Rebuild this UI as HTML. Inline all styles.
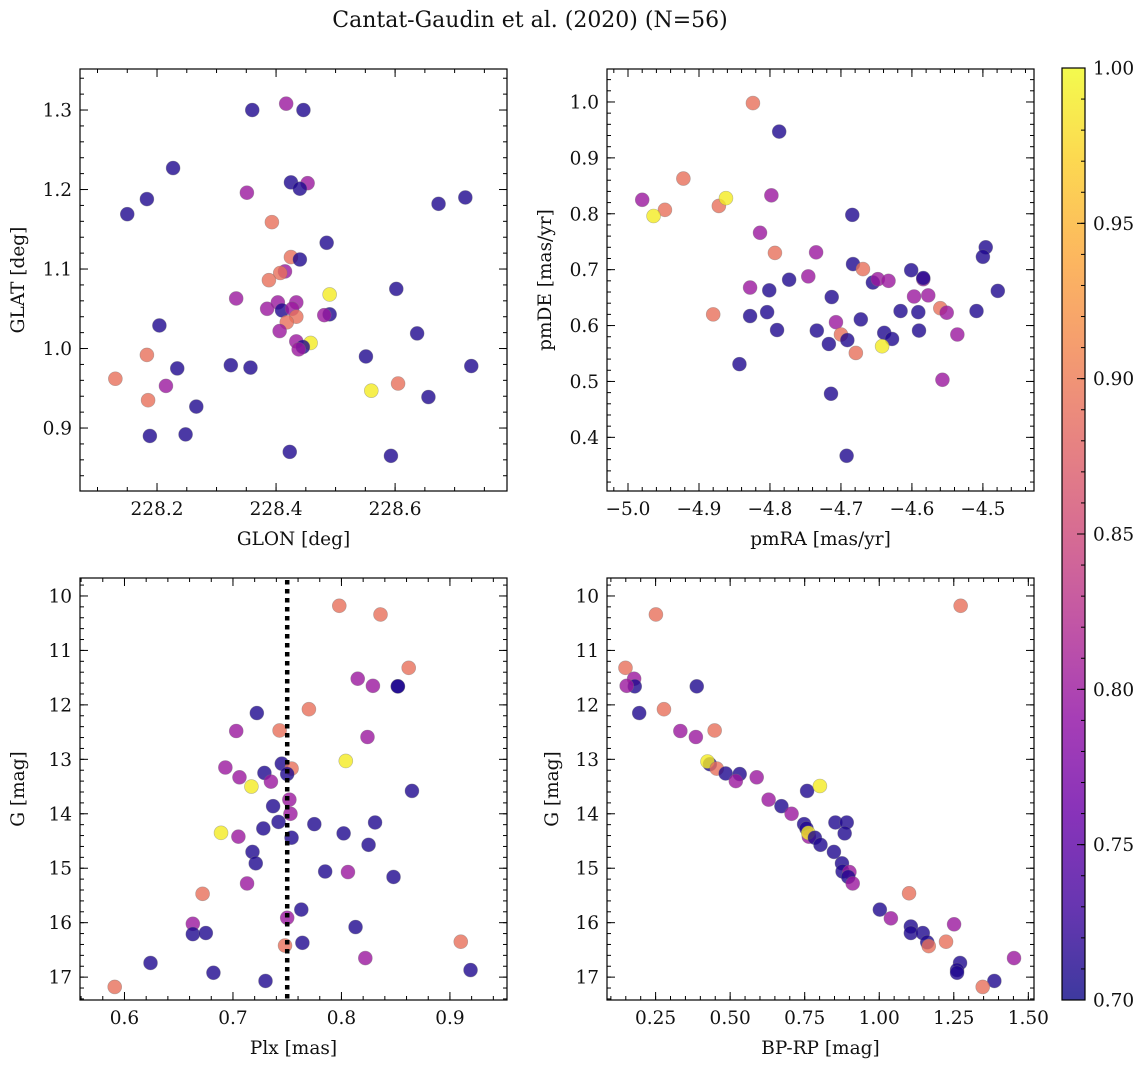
<!DOCTYPE html>
<html><head><meta charset="utf-8"><style>
html,body{margin:0;padding:0;background:#fff}
svg{display:block;font-family:"DejaVu Serif","Liberation Serif",serif}
</style></head><body>
<svg id="fig" width="1148" height="1068" viewBox="0 0 1148 1068" xmlns="http://www.w3.org/2000/svg">
<text x="530" y="27" font-size="22" text-anchor="middle" fill="#111">Cantat-Gaudin et al. (2020) (N=56)</text>
</svg>
<script>
const N=0.71,M=0.80,S=0.89,Y=0.99;
const p1x=[228.36,228.417,228.446,228.227,228.425,228.453,228.44,228.351,228.183,228.15,228.673,228.718,228.393,228.485,228.425,228.44,228.415,228.407,228.388,228.49,228.602,228.333,228.403,228.434,228.385,228.41,228.427,228.434,228.418,228.49,228.481,228.204,228.637,228.406,228.434,228.458,228.445,228.438,228.551,228.324,228.357,228.234,228.183,228.728,228.13,228.215,228.605,228.56,228.185,228.656,228.266,228.188,228.248,228.423,228.593];
const p1y=[1.30,1.308,1.30,1.227,1.209,1.208,1.201,1.196,1.188,1.169,1.182,1.19,1.159,1.133,1.115,1.112,1.097,1.095,1.086,1.068,1.075,1.063,1.058,1.058,1.050,1.048,1.050,1.040,1.033,1.043,1.042,1.029,1.019,1.022,1.009,1.007,1.002,0.999,0.990,0.979,0.976,0.975,0.992,0.978,0.962,0.953,0.956,0.947,0.935,0.939,0.927,0.890,0.892,0.870,0.865];
const p1c=[N,M,N,N,N,M,N,M,N,N,N,N,S,N,S,N,M,S,S,Y,N,M,M,M,M,N,M,S,S,N,M,N,N,M,M,Y,N,M,N,N,N,N,S,N,S,M,S,Y,S,N,N,N,N,N,N];
const p2x=[-4.824,-4.787,-4.922,-4.980,-4.948,-4.964,-4.872,-4.862,-4.798,-4.684,-4.814,-4.793,-4.735,-4.496,-4.500,-4.683,-4.669,-4.601,-4.584,-4.584,-4.773,-4.746,-4.655,-4.648,-4.633,-4.479,-4.828,-4.801,-4.597,-4.577,-4.713,-4.880,-4.828,-4.804,-4.616,-4.591,-4.560,-4.551,-4.509,-4.707,-4.672,-4.790,-4.734,-4.590,-4.536,-4.700,-4.639,-4.628,-4.717,-4.691,-4.642,-4.679,-4.843,-4.557,-4.714,-4.692];
const p2y=[0.998,0.947,0.863,0.825,0.807,0.796,0.814,0.828,0.833,0.798,0.766,0.730,0.731,0.740,0.723,0.710,0.701,0.699,0.683,0.685,0.682,0.688,0.677,0.683,0.680,0.662,0.668,0.663,0.652,0.654,0.651,0.620,0.617,0.624,0.626,0.624,0.631,0.623,0.626,0.606,0.611,0.592,0.591,0.591,0.584,0.584,0.587,0.576,0.567,0.574,0.563,0.551,0.531,0.503,0.478,0.367];
const p2c=[S,N,S,M,S,Y,S,Y,M,N,M,S,M,N,N,N,S,N,M,N,N,M,N,M,M,N,M,N,M,M,N,S,N,N,N,N,S,M,N,M,N,N,N,N,M,S,N,N,N,N,Y,S,N,M,N,N];
const p3x=[0.798,0.836,0.862,0.815,0.829,0.852,0.852,0.770,0.722,0.703,0.743,0.824,0.804,0.745,0.754,0.693,0.729,0.750,0.706,0.735,0.717,0.865,0.752,0.737,0.753,0.742,0.775,0.831,0.728,0.689,0.705,0.754,0.802,0.825,0.718,0.721,0.785,0.806,0.848,0.713,0.672,0.763,0.750,0.663,0.663,0.675,0.813,0.910,0.764,0.748,0.822,0.624,0.919,0.682,0.730,0.591];
const p3y=[10.18,10.34,11.32,11.52,11.65,11.66,11.66,12.08,12.15,12.48,12.47,12.59,13.03,13.08,13.17,13.15,13.25,13.27,13.33,13.41,13.50,13.58,13.74,13.86,14.00,14.15,14.19,14.16,14.27,14.35,14.42,14.44,14.36,14.57,14.70,14.91,15.06,15.07,15.16,15.28,15.47,15.76,15.91,16.02,16.21,16.19,16.08,16.35,16.37,16.42,16.65,16.74,16.87,16.92,17.07,17.18];
const p3c=[S,S,S,M,M,N,N,S,N,M,S,M,Y,N,S,M,N,N,M,M,Y,N,M,N,M,N,N,N,N,Y,M,N,N,N,N,N,N,M,N,M,S,N,M,M,N,N,N,S,N,S,M,N,N,N,N,S];
const p4x=[1.273,0.251,0.149,0.178,0.180,0.153,0.388,0.278,0.195,0.333,0.448,0.385,0.432,0.424,0.455,0.485,0.532,0.519,0.589,0.758,0.801,0.629,0.672,0.706,0.748,0.853,0.891,0.884,0.756,0.764,0.762,0.784,0.803,0.848,0.875,0.877,0.900,0.896,0.911,1.100,1.002,1.039,1.106,1.106,1.251,1.146,1.161,1.166,1.224,1.452,1.271,1.261,1.261,1.386,1.347];
const p4y=[10.18,10.34,11.32,11.52,11.66,11.65,11.66,12.08,12.15,12.48,12.47,12.59,13.09,13.04,13.17,13.26,13.27,13.40,13.33,13.58,13.49,13.74,13.86,14.00,14.19,14.16,14.16,14.36,14.27,14.42,14.35,14.44,14.57,14.70,14.91,15.06,15.07,15.16,15.28,15.46,15.76,15.92,16.07,16.19,16.03,16.19,16.36,16.43,16.35,16.65,16.74,16.87,16.92,17.07,17.18];
const p4c=[S,S,S,M,N,M,N,S,N,M,S,M,N,Y,S,N,N,M,M,N,Y,M,N,M,N,N,N,N,N,M,Y,N,N,N,N,N,M,N,M,S,N,M,N,N,M,N,N,S,S,M,N,N,N,N,S];
const t1x=[228.2,228.4,228.6], t1y=[0.9,1.0,1.1,1.2,1.3];
const t2x=[-5.0,-4.9,-4.8,-4.7,-4.6,-4.5], t2y=[0.4,0.5,0.6,0.7,0.8,0.9,1.0];
const t3x=[0.6,0.7,0.8,0.9], tGy=[10,11,12,13,14,15,16,17];
const t4x=[0.25,0.50,0.75,1.00,1.25,1.50];
const tcb=[0.70,0.75,0.80,0.85,0.90,0.95,1.00];
const plxCut=[0.75];

const FS=18.5;
const NS='http://www.w3.org/2000/svg';
const svg=document.getElementById('fig');
function el(tag,attrs,parent){const e=document.createElementNS(NS,tag);for(const k in attrs)e.setAttribute(k,attrs[k]);(parent||svg).appendChild(e);return e;}
const stops=['#0d0887','#41049d','#6a00a8','#8f0da4','#b12a90','#cc4778','#e16462','#f2844b','#fca636','#fcce25','#f0f921'];
function hex(h){return [1,3,5].map(i=>parseInt(h.substr(i,2),16));}
function plasma(t){t=Math.max(0,Math.min(1,t));const f=t*10,i=Math.min(9,Math.floor(f)),r=f-i;const a=hex(stops[i]),b=hex(stops[i+1]);return 'rgb('+a.map((v,k)=>Math.round(v+(b[k]-v)*r)).join(',')+')';}
function cmap(c){return plasma((c-0.7)/0.3);}
function fmt(v,d){return (v<0?'\u2212':'')+Math.abs(v).toFixed(d);}

function panel(o){
  const g=el('g',{});
  
  
  const X=v=>o.L+(v-o.x0)/(o.x1-o.x0)*(o.R-o.L);
  const Yf=v=>o.T+(v-o.y0)/(o.y1-o.y0)*(o.B-o.T);
  const tk=el('g',{stroke:'#000','stroke-width':1},g);
  
  
  const lo=Math.min(o.x0,o.x1),hi=Math.max(o.x0,o.x1);
  for(let v=Math.ceil(lo/o.mx-1e-6)*o.mx;v<=hi+1e-9;v+=o.mx){const x=X(v);el('line',{x1:x,x2:x,y1:o.B,y2:o.B-4},tk);el('line',{x1:x,x2:x,y1:o.T,y2:o.T+4},tk);}
  const ylo=Math.min(o.y0,o.y1),yhi=Math.max(o.y0,o.y1);
  for(let v=Math.ceil(ylo/o.my-1e-6)*o.my;v<=yhi+1e-9;v+=o.my){const y=Yf(v);el('line',{x1:o.L,x2:o.L+4,y1:y,y2:y},tk);el('line',{x1:o.R,x2:o.R-4,y1:y,y2:y},tk);}
  o.tx.forEach(v=>{const x=X(v);el('line',{x1:x,x2:x,y1:o.B,y2:o.B-8},tk);el('line',{x1:x,x2:x,y1:o.T,y2:o.T+8},tk);
    const t=el('text',{x:x,y:o.B+24,'font-size':FS,'text-anchor':'middle',fill:'#111'},g);t.textContent=fmt(v,o.dx);
    });
  o.ty.forEach(v=>{const y=Yf(v);el('line',{x1:o.L,x2:o.L+8,y1:y,y2:y},tk);el('line',{x1:o.R,x2:o.R-8,y1:y,y2:y},tk);
    const t=el('text',{x:o.L-8,y:y+6.5,'font-size':FS,'text-anchor':'end',fill:'#111'},g);t.textContent=fmt(v,o.dy);
    });
  const pts=el('g',{},g);
  
  
  o.xs.forEach((v,i)=>{const c=el('circle',{cx:X(v),cy:Yf(o.ys[i]),r:7,fill:cmap(o.cs[i]),'fill-opacity':0.8,stroke:'#777','stroke-opacity':0.5,'stroke-width':0.6},pts);
    });
  if(o.vline){o.vline.forEach(v=>{const l=el('line',{x1:X(v),x2:X(v),y1:o.T+2,y2:o.B,stroke:'#000','stroke-width':4.5,'stroke-dasharray':'4.5,4.5'},g);
    });}
  const fr=el('rect',{x:o.L,y:o.T,width:o.R-o.L,height:o.B-o.T,fill:'none',stroke:'#000','stroke-width':1.2},g);
  
  const xl=el('text',{x:(o.L+o.R)/2,y:o.B+54,'font-size':FS,'text-anchor':'middle',fill:'#111'},g);xl.textContent=o.xlab;
  
  const yc=(o.T+o.B)/2;
  const yl=el('text',{x:o.ylx,y:yc,'font-size':FS,'text-anchor':'middle',fill:'#111',transform:'rotate(-90 '+o.ylx+' '+yc+')'},g);yl.textContent=o.ylab;
  
}
panel({name:'glon-glat-panel',L:80,R:507,T:69,B:491,x0:228.0706,x1:228.788,y0:1.3516,y1:0.8208,tx:t1x,ty:t1y,dx:1,dy:1,mx:0.05,my:0.02,xs:p1x,ys:p1y,cs:p1c,xlab:'GLON [deg]',ylab:'GLAT [deg]',ylx:24});
panel({name:'proper-motion-panel',L:607,R:1034,T:69,B:491,x0:-5.0296,x1:-4.428,y0:1.059,y1:0.304,tx:t2x,ty:t2y,dx:1,dy:1,mx:0.02,my:0.02,xs:p2x,ys:p2y,cs:p2c,xlab:'pmRA [mas/yr]',ylab:'pmDE [mas/yr]',ylx:551});
panel({name:'plx-g-panel',L:80,R:507,T:578,B:1000,x0:0.559,x1:0.9526,y0:9.67,y1:17.42,tx:t3x,ty:tGy,dx:1,dy:0,mx:0.02,my:0.2,xs:p3x,ys:p3y,cs:p3c,xlab:'Plx [mas]',ylab:'G [mag]',ylx:24,vline:plxCut});
panel({name:'cmd-panel',L:607,R:1034,T:578,B:1000,x0:0.087,x1:1.519,y0:9.67,y1:17.42,tx:t4x,ty:tGy,dx:2,dy:0,mx:0.05,my:0.2,xs:p4x,ys:p4y,cs:p4c,xlab:'BP-RP [mag]',ylab:'G [mag]',ylx:558});

const cb=el('g',{});


const defs=el('defs',{},svg);
const lg=el('linearGradient',{id:'pl',x1:0,y1:1,x2:0,y2:0},defs);
for(let i=0;i<=20;i++){el('stop',{offset:i/20,'stop-color':plasma(i/20),'stop-opacity':0.8},lg);}
const cT=68,cB=1000,cL=1062,cR=1085;
el('rect',{x:cL,y:cT,width:cR-cL,height:cB-cT,fill:'url(#pl)',stroke:'#000','stroke-width':1.2},cb);
const CY=v=>cB-(v-0.7)/0.3*(cB-cT);
for(let v=0.70;v<=1.0001;v+=0.01){el('line',{x1:cR,x2:cR-4,y1:CY(v),y2:CY(v),stroke:'#000','stroke-width':1},cb);}
tcb.forEach(v=>{const y=CY(v);el('line',{x1:cR,x2:cR-8,y1:y,y2:y,stroke:'#000','stroke-width':1},cb);
  const t=el('text',{x:cR+8,y:y+6.5,'font-size':FS,fill:'#111'},cb);t.textContent=v.toFixed(2);
  });
</script>
</body></html>
